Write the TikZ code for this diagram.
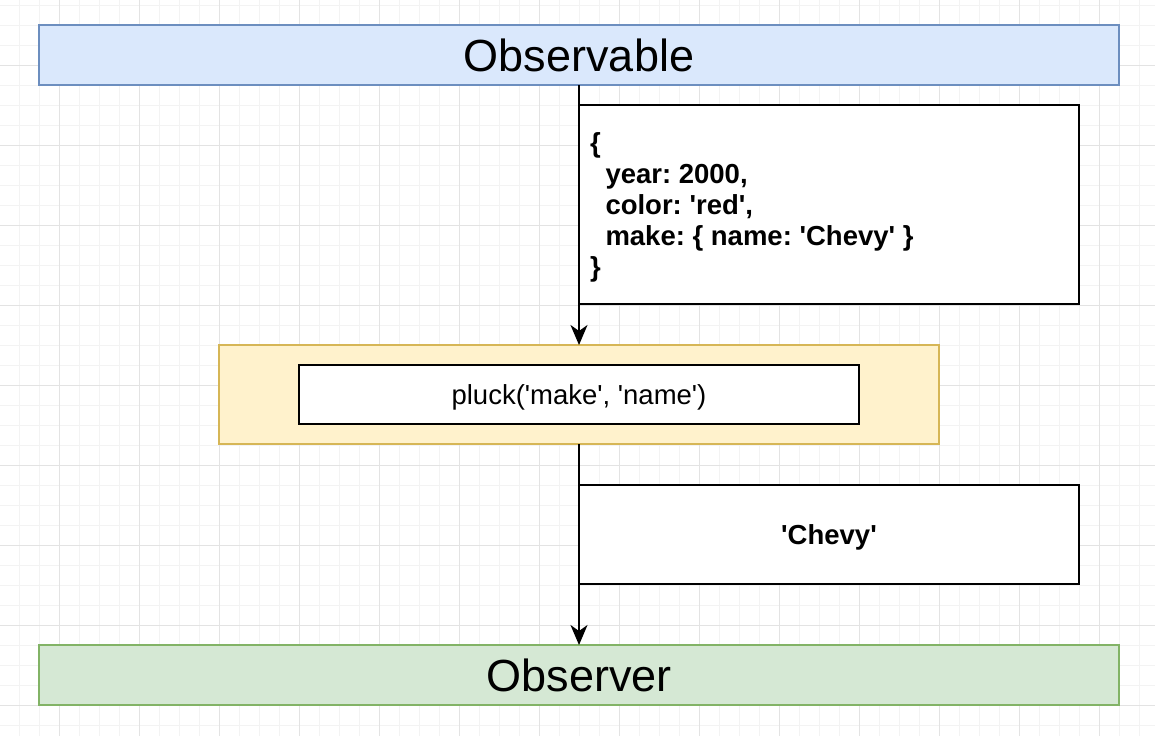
\documentclass[tikz,border=0pt]{standalone}
\usepackage{fontspec}
\setmainfont{Liberation Sans}
\usetikzlibrary{arrows.meta}
\newcommand\sq{\textquotesingle}
\newcommand\lowered[2]{\raisebox{-#1}[\height][\depth]{#2}}
\definecolor{minorgrid}{HTML}{F3F3F3}
\definecolor{majorgrid}{HTML}{E3E3E3}
\definecolor{blueFill}{HTML}{DAE8FC}
\definecolor{blueLine}{HTML}{6C8EBF}
\definecolor{yelFill}{HTML}{FFF2CC}
\definecolor{yelLine}{HTML}{D6B656}
\definecolor{grnFill}{HTML}{D5E8D4}
\definecolor{grnLine}{HTML}{82B366}
\tikzset{
  box/.style={draw, line width=2pt, rectangle, inner sep=0pt, outer sep=0pt},
  bigbox/.style={box, minimum width=1080pt, minimum height=60pt, font=\fontsize{45}{50}\selectfont},
  msgbox/.style={box, draw=black, fill=white, minimum width=500pt, font=\fontsize{27.5}{31}\selectfont\bfseries\frenchspacing},
  conn/.style={line width=2pt, -{Stealth[length=20pt,width=17pt,inset=6pt]}}
}
\begin{document}
\frenchspacing
\begin{tikzpicture}[x=1pt,y=-1pt]
\useasboundingbox (0,0) rectangle (1155,736);
\fill[white] (0,0) rectangle (1155,736);
% grid
\foreach \x in {19,39,...,1155} \draw[minorgrid, line width=1pt] (\x,0) -- (\x,736);
\foreach \y in {5,25,...,736} \draw[minorgrid, line width=1pt] (0,\y) -- (1155,\y);
\foreach \x in {59,139,...,1155} \draw[majorgrid, line width=1pt] (\x,0) -- (\x,736);
\foreach \y in {65,145,...,736} \draw[majorgrid, line width=1pt] (0,\y) -- (1155,\y);
% nodes
\node[bigbox, draw=blueLine, fill=blueFill] (obs) at (579,55) {Observable};
\node[box, draw=yelLine, fill=yelFill, minimum width=720pt, minimum height=99pt] (op) at (579,394.5) {};
\node[box, draw=black, fill=white, minimum width=560pt, minimum height=59pt, font=\fontsize{27.5}{31}\selectfont] (pluck) at (579,394.5) {\lowered{3pt}{pluck(\sq make\sq, \sq name\sq)}};
\node[bigbox, draw=grnLine, fill=grnFill] (obsr) at (579,675) {Observer};
% connectors
\draw[conn] (obs.south) -- (op.north);
\draw[conn] (op.south) -- (obsr.north);
% message boxes
\node[msgbox, minimum height=199pt] (msg1) at (829,204.5)
  {\lowered{2.5pt}{\parbox{478pt}{\raggedright\{\\\hspace*{15.5pt}year: 2000,\\\hspace*{15.5pt}color: \sq red\sq,\\\hspace*{15.5pt}make: \{ name: \sq Chevy\sq{} \}\\\}}}};
\node[msgbox, minimum height=99pt] (msg2) at (829,534.5) {\lowered{3pt}{\sq Chevy\sq}};
\end{tikzpicture}
\end{document}
